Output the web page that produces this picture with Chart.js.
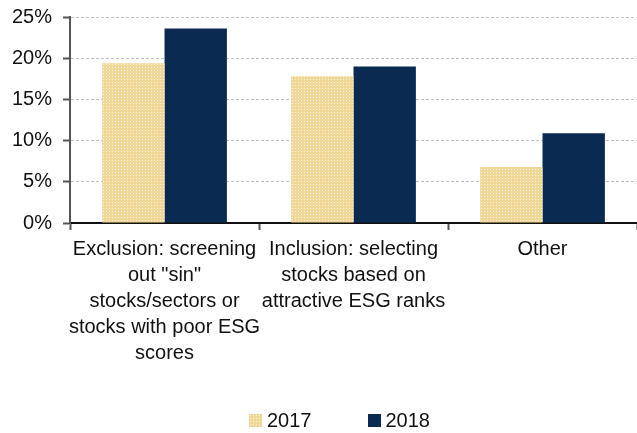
<!DOCTYPE html>
<html>
<head>
<meta charset="utf-8">
<script src="https://cdn.jsdelivr.net/npm/chart.js@4.4.1/dist/chart.umd.min.js"></script>
<style>
  html, body { margin: 0; padding: 0; background: #fff; }
  #wrap { position: relative; width: 637px; height: 433px; }
  #legend {
    position: absolute; left: 249px; top: 409px;
    display: flex; align-items: center;
    font: 20px "Liberation Sans", Arial, sans-serif; color: #111;
  }
  #legend .item { display: flex; align-items: center; margin-right: 56px; }
  #legend .box { width: 13px; height: 13px; margin-right: 5px; }
</style>
</head>
<body>
<div id="wrap">
  <canvas id="esgBar"></canvas>
  <div id="legend"></div>
</div>
<script>
const categories = [
    ["Exclusion: screening", "out \"sin\"", "stocks/sectors or", "stocks with poor ESG", "scores"],
    ["Inclusion: selecting", "stocks based on", "attractive ESG ranks"],
    "Other"
];
const values2017 = [19.4, 17.8, 6.8];
const values2018 = [23.6, 19.0, 10.9];
const yTicks = [0, 5, 10, 15, 20, 25];

// dotted beige tile for the 2017 bars
function dotTile() {
    const c = document.createElement("canvas");
    c.width = 3;
    c.height = 3;
    const g = c.getContext("2d");
    g.fillStyle = "#efd798";
    g.fillRect(0, 0, 3, 3);
    g.fillStyle = "#fcf3dc";
    g.fillRect(1, 1, 1, 1);
    return c;
}
const tile = dotTile();
const pattern2017 = tile.getContext("2d").createPattern(tile, "repeat");

Chart.defaults.font.family = "'Liberation Sans', Arial, sans-serif";
Chart.defaults.color = "#111";

const chart = new Chart(document.getElementById("esgBar"), {
    type: "bar",
    data: {
        labels: categories,
        datasets: [{
            label: "2017",
            data: values2017,
            backgroundColor: pattern2017,
            categoryPercentage: 0.66,
            barPercentage: 1.0
        }, {
            label: "2018",
            data: values2018,
            backgroundColor: "#0b2a51",
            categoryPercentage: 0.66,
            barPercentage: 1.0
        }]
    },
    options: {
        responsive: true,
        maintainAspectRatio: false,
        animation: false,
        layout: { padding: { left: 1, right: 0, top: 0, bottom: 61 } },
        plugins: {
            tooltip: { enabled: false },
            legend: { display: false }
        },
        scales: {
            x: {
                grid: {
                    offset: true,
                    drawOnChartArea: false,
                    drawTicks: true,
                    tickLength: 7,
                    tickColor: "#555",
                    tickWidth: 2
                },
                border: { color: "#111", width: 2 },
                ticks: {
                    font: { size: 20, lineHeight: "26px" },
                    color: "#111",
                    maxRotation: 0,
                    autoSkip: false,
                    padding: 6
                }
            },
            y: {
                min: 0,
                max: 25,
                afterBuildTicks: axis => {
                    axis.ticks = yTicks.map(v => ({ value: v }));
                },
                grid: {
                    color: "#c0c0c0",
                    lineWidth: 1,
                    tickLength: 7,
                    tickColor: "#555",
                    tickWidth: 2,
                    tickBorderDash: []
                },
                border: { color: "#555", width: 2, dash: [3, 2] },
                ticks: {
                    font: { size: 20, lineHeight: 0.6 },
                    color: "#111",
                    padding: 11,
                    callback: v => v + "%"
                }
            }
        }
    }
});

// legend below the plot, built from the chart's datasets
const legend = document.getElementById("legend");
chart.data.datasets.forEach((ds, i) => {
    const item = document.createElement("div");
    item.className = "item";
    const box = document.createElement("span");
    box.className = "box";
    if (i === 0) {
        box.style.backgroundImage = "url(" + tile.toDataURL() + ")";
    } else {
        box.style.background = ds.backgroundColor;
    }
    const text = document.createElement("span");
    text.textContent = ds.label;
    item.appendChild(box);
    item.appendChild(text);
    legend.appendChild(item);
});
</script>
</body>
</html>
